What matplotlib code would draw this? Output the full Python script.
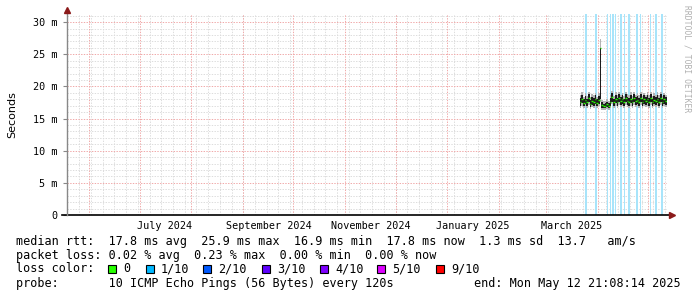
import pandas as pd
import matplotlib.pyplot as plt
from matplotlib.patches import Rectangle

# ----------------------------------------------------------------------------
# Data (values in ms)
# ----------------------------------------------------------------------------
start_day = '2025-03-21'
median_ms = [17.6, 18.1, 17.4, 17.9, 17.5, 18.2, 17.3, 17.8, 17.6, 18.0, 17.4,
             17.9, 26.0, 17.1, 16.9, 17.0, 17.2, 17.0, 17.6, 18.3, 17.5, 18.1,
             17.6, 18.2, 17.7, 18.0, 17.5, 18.2, 17.8, 17.6, 18.1, 17.5, 18.2,
             17.7, 17.9, 17.6, 18.2, 17.5, 18.0, 17.7, 18.1,
             17.6, 18.2, 17.5, 17.9, 17.7, 18.1, 17.6, 18.2, 17.5, 18.0, 17.7, 17.9]
dark_lo = [17.0, 17.4, 16.9, 17.2, 17.0, 17.5, 16.8, 17.1, 17.0, 17.3, 16.9,
           17.2, 18.0, 16.7, 16.6, 16.7, 16.8, 16.7, 17.0, 17.6, 16.9, 17.4,
           17.0, 17.5, 17.1, 17.3, 16.9, 17.5, 17.1, 17.0, 17.4, 16.9, 17.5,
           17.1, 17.2, 17.0, 17.5, 16.9, 17.3, 17.1, 17.4,
           17.0, 17.5, 16.9, 17.2, 17.1, 17.4, 17.0, 17.5, 16.9, 17.3, 17.1, 17.2]
dark_hi = [18.2, 18.7, 18.0, 18.5, 18.1, 18.8, 17.9, 18.4, 18.2, 18.6, 18.0,
           18.5, 26.0, 17.5, 17.3, 17.4, 17.6, 17.4, 18.2, 18.9, 18.1, 18.7,
           18.2, 18.8, 18.3, 18.6, 18.1, 18.8, 18.4, 18.2, 18.7, 18.1, 18.8,
           18.3, 18.5, 18.2, 18.8, 18.1, 18.6, 18.3, 18.7,
           18.2, 18.8, 18.1, 18.5, 18.3, 18.7, 18.2, 18.8, 18.1, 18.6, 18.3, 18.5]
smoke_lo = [16.7, 17.0, 16.6, 16.9, 16.7, 17.1, 16.5, 16.8, 16.7, 17.0, 16.6,
            16.9, 17.6, 16.4, 16.3, 16.4, 16.5, 16.4, 16.7, 17.2, 16.6, 17.0,
            16.7, 17.1, 16.8, 17.0, 16.6, 17.1, 16.8, 16.7, 17.0, 16.6, 17.1,
            16.8, 16.9, 16.7, 17.1, 16.6, 17.0, 16.8, 17.0,
            16.7, 17.1, 16.6, 16.9, 16.8, 17.0, 16.7, 17.1, 16.6, 17.0, 16.8, 16.9]
smoke_hi = [18.6, 19.1, 18.4, 18.9, 18.5, 19.2, 18.3, 18.8, 18.6, 19.0, 18.4,
            18.9, 27.4, 17.9, 17.7, 17.8, 18.0, 17.8, 18.6, 19.3, 18.5, 19.1,
            18.6, 19.2, 18.7, 19.0, 18.5, 19.2, 18.8, 18.6, 19.1, 18.5, 19.2,
            18.7, 18.9, 18.6, 19.2, 18.5, 19.0, 18.7, 19.1,
            18.6, 19.2, 18.5, 18.9, 18.7, 19.1, 18.6, 19.2, 18.5, 19.0, 18.7, 18.9]

# periods with 1/10 packet loss (drawn as light background bars)
loss_start = ['2025-03-23 22:00', '2025-03-29 22:00', '2025-04-06 05:00',
              '2025-04-08 00:00', '2025-04-09 14:00', '2025-04-11 05:00',
              '2025-04-13 19:00', '2025-04-16 05:00', '2025-04-18 19:00',
              '2025-04-23 10:00', '2025-04-25 20:00', '2025-05-01 19:00',
              '2025-05-04 19:00', '2025-05-08 10:00']
loss_end = ['2025-03-25 14:00', '2025-03-31 02:00', '2025-04-06 19:00',
            '2025-04-08 19:00', '2025-04-10 10:00', '2025-04-11 22:00',
            '2025-04-15 00:00', '2025-04-17 05:00', '2025-04-20 00:00',
            '2025-04-24 19:00', '2025-04-26 10:00', '2025-05-02 19:00',
            '2025-05-06 10:00', '2025-05-10 00:00']

y_ticks = [0, 5, 10, 15, 20, 25, 30]
y_labels = ['0', '5 m', '10 m', '15 m', '20 m', '25 m', '30 m']
x_label_dates = ['2024-07-16', '2024-09-16', '2024-11-16', '2025-01-16', '2025-03-16']
x_labels = ['July 2024', 'September 2024', 'November 2024', 'January 2025', 'March 2025']

loss_names = ['0', '1/10', '2/10', '3/10', '4/10', '5/10', '9/10']
loss_colors = ['#26ff00', '#00b8ff', '#0059ff', '#5e00ff', '#7e00ff', '#dd00ff', '#ff0000']

# ----------------------------------------------------------------------------
# Figure setup (pixel geometry like rrdtool)
# ----------------------------------------------------------------------------
W, H = 697, 297
fig = plt.figure(figsize=(W / 100, H / 100), dpi=100)
ax = fig.add_axes([67 / W, 82 / H, 600 / W, 201 / H])

t0 = pd.Timestamp('2024-05-18 16:00')
t1 = pd.Timestamp('2025-05-12 04:00')
ax.set_xlim(t0, t1)
ax.set_ylim(0, 31.26)

# grid: weekly minor, monthly major, 1 ms minor, 5 ms major
dots = (0, (1.4, 1.4))
for d in pd.date_range('2024-05-26', t1, freq='7D'):
    ax.axvline(d, color='#dcdcdc', lw=0.7, ls=dots, zorder=0)
for v in range(1, 32):
    if v % 5:
        ax.axhline(v, color='#dcdcdc', lw=0.7, ls=dots, zorder=0)
for d in pd.date_range('2024-06-01', t1, freq='MS'):
    ax.axvline(d, color='#f0a8a8', lw=0.7, ls=dots, zorder=0)
for v in y_ticks[1:]:
    ax.axhline(v, color='#f0a8a8', lw=0.7, ls=dots, zorder=0)

# loss background
for s, e in zip(loss_start, loss_end):
    ax.axvspan(pd.Timestamp(s), pd.Timestamp(e), color='#a8e4fa', lw=0, zorder=1)

# smoke + median
days = pd.date_range(start_day, periods=len(median_ms), freq='D')
width = pd.Timedelta(days=1)
ax.bar(days, [h - l for h, l in zip(smoke_hi, smoke_lo)], bottom=smoke_lo,
       width=width, align='edge', color='#b4b4b4', lw=0, zorder=2)
ax.bar(days, [h - l for h, l in zip(dark_hi, dark_lo)], bottom=dark_lo,
       width=width, align='edge', color='#1c1c1c', lw=0, zorder=3)
ax.hlines(median_ms, days, days + width, color=loss_colors[0], lw=1.0, zorder=4)

# axes look
for sp in ax.spines.values():
    sp.set_visible(False)
ax.plot([-0.008, 1.005], [0, 0], color='black', lw=1.2, transform=ax.transAxes,
        clip_on=False, zorder=5)
ax.plot([0, 0], [0, 1.01], color='#888888', lw=1, transform=ax.transAxes,
        clip_on=False, zorder=5)
ax.plot([1.008], [0], marker='>', color='#8b1a1a', ms=4, transform=ax.transAxes,
        clip_on=False, zorder=6)
ax.plot([0], [1.02], marker='^', color='#8b1a1a', ms=4, transform=ax.transAxes,
        clip_on=False, zorder=6)

ax.set_yticks(y_ticks)
ax.set_yticklabels(y_labels, family='DejaVu Sans Mono', fontsize=7.3)
ax.set_xticks(pd.to_datetime(x_label_dates))
ax.set_xticklabels(x_labels, family='DejaVu Sans Mono', fontsize=7.3)
ax.tick_params(axis='y', length=3, color='#888888', pad=4)
ax.tick_params(axis='x', length=0, pad=4)
ax.set_ylabel('Seconds', fontsize=8, labelpad=11)

fig.text(687 / W, 1 - 5 / H, 'RRDTOOL / TOBI OETIKER', rotation=270, ha='center',
         va='top', family='DejaVu Sans Mono', fontsize=5.8, color='#b0b0b0')

# ----------------------------------------------------------------------------
# Legend / statistics lines
# ----------------------------------------------------------------------------
mono = dict(family='DejaVu Sans Mono', fontsize=8.5, va='center')
fig.text(16 / W, 1 - 241.5 / H,
         'median rtt:  17.8 ms avg  25.9 ms max  16.9 ms min  17.8 ms now  1.3 ms sd  13.7   am/s',
         **mono)
fig.text(16 / W, 1 - 255 / H,
         'packet loss: 0.02 % avg  0.23 % max  0.00 % min  0.00 % now', **mono)
fig.text(16 / W, 1 - 269 / H, 'loss color:', **mono)
fig.text(16 / W, 1 - 283 / H,
         'probe:       10 ICMP Echo Pings (56 Bytes) every 120s', **mono)
fig.text(681 / W, 1 - 283 / H, 'end: Mon May 12 21:08:14 2025', ha='right', **mono)

sq_x = [108, 146, 203, 262, 320, 377, 436]
for x, name, c in zip(sq_x, loss_names, loss_colors):
    fig.add_artist(Rectangle((x / W, 1 - 273 / H), 8 / W, 8 / H, facecolor=c,
                             edgecolor='black', lw=0.8, transform=fig.transFigure))
    fig.text((x + 15) / W, 1 - 269 / H, name, **mono)

fig.savefig('out.png', dpi=100, facecolor='white')
